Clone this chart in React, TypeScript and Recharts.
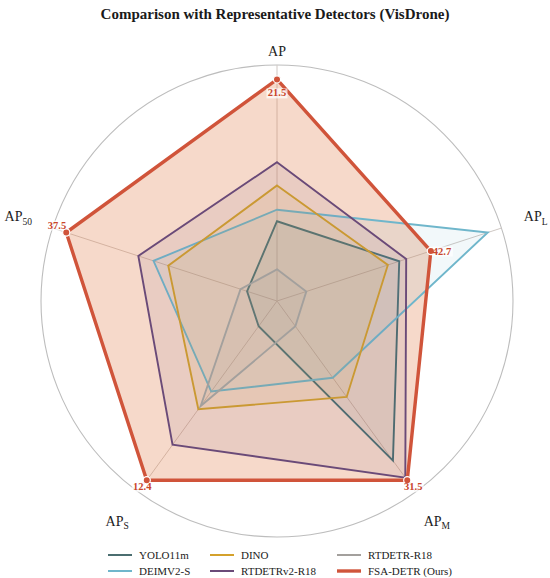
import React from 'react';
import { RadarChart, Radar, PolarGrid, PolarAngleAxis, PolarRadiusAxis } from 'recharts';

// Axes (clockwise from top)
const METRIC_KEYS = ['AP', 'AP_L', 'AP_M', 'AP_S', 'AP_50'];
const METRIC_SUBS = ['', 'L', 'M', 'S', '50'];

// Per-axis normalised scores (1 = best model on that axis)
const YOLO11M = [0.36, 0.58, 0.89, 0.141, 0.142];
const DEIMV2S = [0.412, 1.0, 0.428, 0.505, 0.586];
const DINO = [0.521, 0.526, 0.535, 0.604, 0.516];
const RTDETRV2 = [0.626, 0.613, 0.985, 0.802, 0.658];
const RTDETR = [0.143, 0.139, 0.141, 0.586, 0.173];
const FSA = [1.0, 0.73, 1.0, 1.0, 1.0];
// Raw FSA-DETR values printed at its vertices
const FSA_VALUES = [21.5, 42.7, 31.5, 12.4, 37.5];

const SERIES_NAMES = ['YOLO11m', 'DEIMV2-S', 'DINO', 'RTDETRv2-R18', 'RTDETR-R18', 'FSA-DETR (Ours)'];
const SERIES_KEYS = ['yolo', 'deim', 'dino', 'rtv2', 'rt', 'fsa'];
const SERIES_VALUES = [YOLO11M, DEIMV2S, DINO, RTDETRV2, RTDETR, FSA];
const SERIES_COLORS = ['#4b6e70', '#6fb6cb', '#d4a12c', '#6a4a78', '#a3a09d', '#d0543a'];

const data = METRIC_KEYS.map((m, i) => {
  const row: any = { metric: m };
  SERIES_KEYS.forEach((k, j) => {
    row[k] = SERIES_VALUES[j][i];
  });
  return row;
});

const W = 550;
const H = 578;
const CX = 277;
const CY = 301;
const R = 236;
const FONT = '"Liberation Serif", "Times New Roman", serif';
const RED = '#d0543a';
const LABEL_RED = '#c9462c';

const TICK_R = [250, 272, 272, 272, 272];

const renderTick = (props: any) => {
  const value = props.payload?.value;
  let i = METRIC_KEYS.indexOf(value);
  if (i < 0) i = props.index ?? 0;
  const ang = ((90 - 72 * i) * Math.PI) / 180;
  const r = TICK_R[i];
  const x = CX + r * Math.cos(ang);
  const y = CY - r * Math.sin(ang) + 4.5;
  return (
    <text x={x} y={y} textAnchor="middle" fontFamily={FONT} fontSize={14} fill="#222">
      <tspan>AP</tspan>
      {METRIC_SUBS[i] ? (
        <tspan fontSize={9.5} dy={3.5}>
          {METRIC_SUBS[i]}
        </tspan>
      ) : null}
    </text>
  );
};

// label placement around FSA vertices: dx, dy (baseline), anchor
const VAL_OFF: [number, number, 'start' | 'middle' | 'end'][] = [
  [0, 17, 'middle'],
  [2, 3.5, 'start'],
  [6, 10, 'middle'],
  [-4.5, 10, 'middle'],
  [0, -4, 'end'],
];

const FsaDot = (props: any) => {
  const { cx, cy, index } = props;
  if (cx == null || cy == null) return null;
  const [dx, dy, anchor] = VAL_OFF[index] || [0, 0, 'middle'];
  const label = FSA_VALUES[index].toFixed(1);
  const tw = 19;
  const tx = cx + dx;
  const ty = cy + dy;
  const rx = anchor === 'middle' ? tx - tw / 2 : anchor === 'end' ? tx - tw : tx;
  return (
    <g key={`fsa-dot-${index}`}>
      <rect x={rx - 1} y={ty - 8} width={tw + 2} height={10} fill="#ffffff" fillOpacity={0.7} />
      <circle cx={cx} cy={cy} r={3.6} fill={RED} stroke="#ffffff" strokeWidth={1.2} />
      <text x={tx} y={ty} textAnchor={anchor} fontFamily={FONT} fontSize={10.5} fontWeight="bold" fill={LABEL_RED}>
        {label}
      </text>
    </g>
  );
};

const LEGEND_COLS_X = [108, 210, 337];
const LEGEND_ROWS_Y = [555, 571];

export default function App() {
  return (
    <div style={{ position: 'absolute', left: 0, top: 0, width: W, height: H, overflow: 'hidden', background: '#fff' }}>
      <RadarChart width={W} height={H} data={data} cx={CX} cy={CY} outerRadius={R} startAngle={90} endAngle={-270}>
        <PolarGrid gridType="circle" polarRadius={[R]} stroke="#bdbdbd" strokeWidth={1.1} radialLines={false} />
        <PolarGrid gridType="circle" polarRadius={[0]} stroke="#cfc8c4" strokeWidth={1} radialLines={true} />
        <PolarAngleAxis dataKey="metric" tick={renderTick} axisLine={false} tickLine={false} />
        <PolarRadiusAxis domain={[0, 1.065]} tick={false} axisLine={false} tickCount={2} />
        <Radar
          name="fsa-fill"
          dataKey="fsa"
          stroke="none"
          fill="#e0804f"
          fillOpacity={0.3}
          dot={false}
          legendType="none"
          isAnimationActive={false}
        />
        {SERIES_KEYS.slice(0, 5).map((k, j) => (
          <Radar
            key={k}
            name={SERIES_NAMES[j]}
            dataKey={k}
            stroke={SERIES_COLORS[j]}
            strokeWidth={1.9}
            fill={SERIES_COLORS[j]}
            fillOpacity={0.09}
            dot={false}
            isAnimationActive={false}
          />
        ))}
        <Radar
          name={SERIES_NAMES[5]}
          dataKey="fsa"
          stroke={RED}
          strokeWidth={3.4}
          fill="none"
          fillOpacity={0}
          dot={FsaDot}
          isAnimationActive={false}
        />
      </RadarChart>
      <svg width={W} height={H} style={{ position: 'absolute', left: 0, top: 0, pointerEvents: 'none' }}>
        <text x={275} y={19} textAnchor="middle" fontFamily={FONT} fontSize={15} fontWeight="bold" fill="#1a1a1a">
          Comparison with Representative Detectors (VisDrone)
        </text>
        {SERIES_NAMES.map((n, j) => {
          const col = Math.floor(j / 2);
          const row = j % 2;
          const x = LEGEND_COLS_X[col];
          const y = LEGEND_ROWS_Y[row];
          return (
            <g key={n}>
              <line x1={x} x2={x + 24} y1={y} y2={y} stroke={SERIES_COLORS[j]} strokeWidth={j === 5 ? 3.4 : 2} />
              <text x={x + 31} y={y + 4} fontFamily={FONT} fontSize={11} fill="#222">
                {n}
              </text>
            </g>
          );
        })}
      </svg>
    </div>
  );
}
